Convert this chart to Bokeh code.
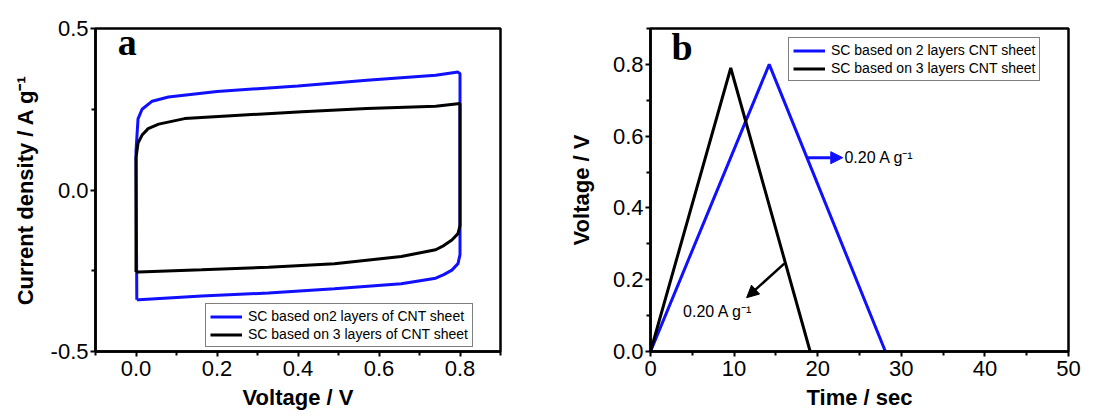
from bokeh.plotting import figure
from bokeh.models import Range1d, FixedTicker, Label, Arrow, NormalHead, PrintfTickFormatter
from bokeh.layouts import row
from bokeh.embed import file_html
from bokeh.resources import INLINE

# ---------------- Panel a data: CV loops (V, current density) ----------------
cv2_v = [0.002, 0.0, 0.005, 0.015, 0.04, 0.08, 0.2, 0.4, 0.57, 0.74, 0.795, 0.8,
         0.8, 0.795, 0.78, 0.76, 0.74, 0.655, 0.49, 0.327, 0.162, 0.007, 0.002]
cv2_i = [-0.34, 0.12, 0.22, 0.25, 0.275, 0.288, 0.305, 0.322, 0.34, 0.355, 0.365, 0.36,
         -0.2, -0.228, -0.248, -0.262, -0.273, -0.29, -0.306, -0.319, -0.328, -0.34, -0.34]
cv3_v = [0.0, 0.0, 0.005, 0.015, 0.03, 0.056, 0.12, 0.245, 0.41, 0.57, 0.74, 0.8,
         0.8, 0.795, 0.78, 0.76, 0.74, 0.655, 0.49, 0.327, 0.162, 0.007, 0.0]
cv3_i = [-0.254, 0.10, 0.145, 0.17, 0.19, 0.204, 0.221, 0.231, 0.242, 0.252, 0.259, 0.268,
         -0.11, -0.135, -0.155, -0.172, -0.185, -0.206, -0.228, -0.239, -0.247, -0.254, -0.254]
label_a2 = "SC based on2 layers of CNT sheet"
label_a3 = "SC based on 3 layers of CNT sheet"

# ---------------- Panel b data: charge/discharge (time, voltage) ----------------
gcd2_t = [0.0, 14.2, 28.1]
gcd2_v = [0.0, 0.80, 0.0]
gcd3_t = [0.0, 9.6, 19.1]
gcd3_v = [0.0, 0.79, 0.0]
label_b2 = "SC based on 2 layers CNT sheet"
label_b3 = "SC based on 3 layers CNT sheet"
annot_text = "0.20 A g\u207b\u00b9"
arrow2 = [18.6, 0.54, 23.0, 0.54]   # x0, y0, x1, y1
arrow3 = [16.0, 0.245, 11.5, 0.15]
annot2_pos = [23.2, 0.54]
annot3_pos = [3.9, 0.112]

BLUE = "#1010ff"
FONT = "Liberation Sans"


def style(p, xt, xm, yt, ym, xfmt, yfmt):
    p.xgrid.visible = False
    p.ygrid.visible = False
    p.outline_line_color = "black"
    p.outline_line_width = 2.5
    p.background_fill_color = "white"
    p.border_fill_color = "white"
    p.xaxis.ticker = FixedTicker(ticks=xt, minor_ticks=xm)
    p.yaxis.ticker = FixedTicker(ticks=yt, minor_ticks=ym)
    p.xaxis.formatter = PrintfTickFormatter(format=xfmt)
    p.yaxis.formatter = PrintfTickFormatter(format=yfmt)
    for ax in (p.xaxis, p.yaxis):
        ax.axis_line_width = 2.5
        ax.axis_line_color = "black"
        ax.major_tick_in = 0
        ax.major_tick_out = 5
        ax.minor_tick_in = 0
        ax.minor_tick_out = 4
        ax.major_tick_line_width = 2
        ax.minor_tick_line_width = 2
        ax.major_label_text_font = FONT
        ax.major_label_text_font_size = "22px"
        ax.major_label_text_color = "black"
        ax.axis_label_text_font = FONT
        ax.axis_label_text_font_style = "bold"
        ax.axis_label_text_font_size = "22px"
        ax.axis_label_text_color = "black"
    p.xaxis.major_label_standoff = 4
    p.xaxis.axis_label_standoff = 6
    p.yaxis.major_label_standoff = 2


def style_legend(p, loc):
    lg = p.legend[0]
    lg.location = loc
    lg.label_text_font = FONT
    lg.label_text_font_size = "14px"
    lg.label_text_color = "black"
    lg.glyph_width = 32
    lg.glyph_height = 15
    lg.label_height = 15
    lg.label_standoff = 6
    lg.spacing = 2
    lg.padding = 4
    lg.margin = 0
    lg.border_line_color = "black"
    lg.border_line_width = 1
    lg.background_fill_alpha = 1


# ---------------- Panel a ----------------
p1 = figure(width=560, height=419, output_backend="svg", toolbar_location=None,
            x_range=Range1d(-0.1, 0.9), y_range=Range1d(-0.5, 0.5),
            min_border_left=95, min_border_right=60, min_border_top=28, min_border_bottom=68)
p1.line(cv2_v, cv2_i, line_color=BLUE, line_width=3, legend_label=label_a2)
p1.line(cv3_v, cv3_i, line_color="black", line_width=3, legend_label=label_a3)
style(p1, [0, 0.2, 0.4, 0.6, 0.8], [-0.1, 0.1, 0.3, 0.5, 0.7, 0.9],
      [-0.5, 0.0, 0.5], [-0.25, 0.25], "%.1f", "%.1f")
p1.yaxis.axis_label_standoff = 10
p1.xaxis.axis_label = "Voltage / V"
p1.yaxis.axis_label = "Current density / A g\u207b\u00b9"
style_legend(p1, (110, 4))
p1.add_layout(Label(x=-0.045, y=0.393, text="a", text_font="Liberation Serif",
                    text_font_style="bold", text_font_size="38px", text_color="black"))

# ---------------- Panel b ----------------
p2 = figure(width=543, height=419, output_backend="svg", toolbar_location=None,
            x_range=Range1d(0, 50), y_range=Range1d(0, 0.9),
            min_border_left=90, min_border_right=35, min_border_top=28, min_border_bottom=68)
p2.line(gcd2_t, gcd2_v, line_color=BLUE, line_width=3, legend_label=label_b2)
p2.line(gcd3_t, gcd3_v, line_color="black", line_width=3, legend_label=label_b3)
style(p2, [0, 10, 20, 30, 40, 50], [5, 15, 25, 35, 45],
      [0.0, 0.2, 0.4, 0.6, 0.8], [0.1, 0.3, 0.5, 0.7, 0.9], "%d", "%.1f")
p2.yaxis.axis_label_standoff = 16
p2.xaxis.axis_label = "Time / sec"
p2.yaxis.axis_label = "Voltage / V"
style_legend(p2, (138, 270))
p2.add_layout(Label(x=2.5, y=0.79, text="b", text_font="Liberation Serif",
                    text_font_style="bold", text_font_size="38px", text_color="black"))

p2.add_layout(Arrow(end=NormalHead(size=12, fill_color=BLUE, line_color=BLUE),
                    x_start=arrow2[0], y_start=arrow2[1], x_end=arrow2[2], y_end=arrow2[3],
                    line_color=BLUE, line_width=3))
p2.add_layout(Arrow(end=NormalHead(size=12, fill_color="black", line_color="black"),
                    x_start=arrow3[0], y_start=arrow3[1], x_end=arrow3[2], y_end=arrow3[3],
                    line_color="black", line_width=2.5))
p2.add_layout(Label(x=annot2_pos[0], y=annot2_pos[1], text=annot_text, text_font=FONT,
                    text_font_size="16px", text_baseline="middle", text_align="left",
                    text_color="black"))
p2.add_layout(Label(x=annot3_pos[0], y=annot3_pos[1], text=annot_text, text_font=FONT,
                    text_font_size="16px", text_baseline="middle", text_align="left",
                    text_color="black"))

layout = row(p1, p2)
open("out.html", "w").write(file_html(layout, INLINE))
